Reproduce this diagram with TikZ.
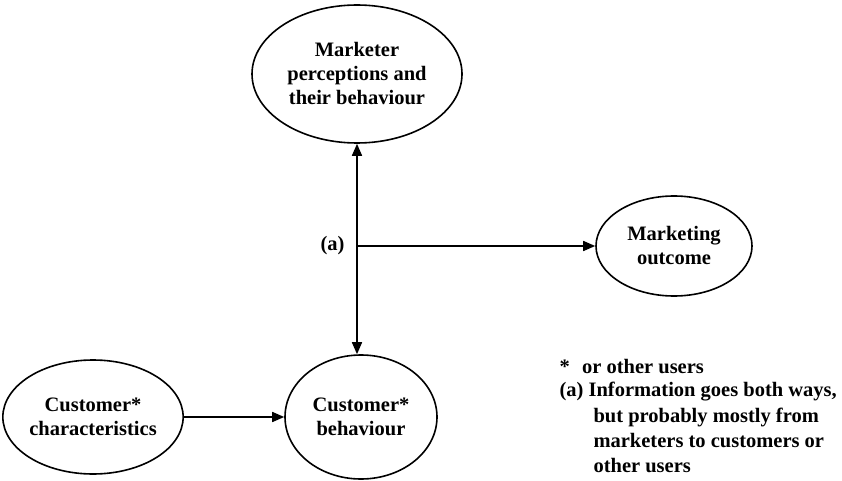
\documentclass[tikz,border=0pt]{standalone}
\usepackage{fontspec}
\setmainfont{Liberation Serif}
\usetikzlibrary{arrows.meta,shapes.geometric}
\begin{document}
\begin{tikzpicture}[x=1pt,y=-1pt,
  bubble/.style={draw,ellipse,line width=1.6pt,inner sep=0pt,align=center,
    font=\fontsize{20.5}{24}\selectfont\bfseries},
  flow/.style={line width=1.6pt,-{Triangle[length=12pt,width=10pt]}},
  note/.style={anchor=west,font=\fontsize{20.5}{24}\selectfont\bfseries}]
\useasboundingbox (0,0) rectangle (842,481);

\node[bubble,minimum width=210pt,minimum height=138pt] (mkt) at (357,74)
  {Marketer\\perceptions and\\their behaviour};
\node[bubble,minimum width=156pt,minimum height=100pt] (out) at (674,246)
  {Marketing\\outcome};
\node[bubble,minimum width=152pt,minimum height=124pt] (beh) at (361,417)
  {Customer*\\behaviour};
\node[bubble,minimum width=174pt,minimum height=114pt] (chr) at (93,417)
  {Customer*\\characteristics};

% two-way information link and its branch to the outcome
\coordinate (mid) at (mkt.south |- out.west);
\coordinate (bend) at (mkt.south |- beh.north);
\draw[flow,{Triangle[length=12pt,width=10pt]}-{Triangle[length=12pt,width=10pt]}]
  (mkt.south) -- (bend);
\draw[flow] (mid) -- (out.west);
\node[anchor=east,font=\fontsize{20.5}{24}\selectfont\bfseries] (a) at ([xshift=-9pt]mid) {(a)};

\draw[flow] (chr.east) -- (beh.west);

% legend
\node[note] (n1) at (556,367) {*\hspace{0.6em}or other users};
\node[note] (n2) at (556,392) {(a) Information goes both ways,};
\node[note] (n3) at (590,417) {but probably mostly from};
\node[note] (n4) at (590,441) {marketers to customers or};
\node[note] (n5) at (590,466) {other users};
\end{tikzpicture}
\end{document}
